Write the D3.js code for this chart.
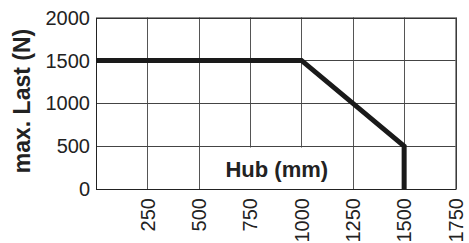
<!DOCTYPE html>
<html>
<head>
<meta charset="utf-8">
<script src="https://cdnjs.cloudflare.com/ajax/libs/d3/7.8.5/d3.min.js"></script>
<style>
  body { margin: 0; background: #fff; }
  text { font-family: "Liberation Sans", Arial, sans-serif; fill: #222; }
</style>
</head>
<body>
<script>
// data
var hub = [0, 1000, 1500, 1500];
var load = [1500, 1500, 500, 0];
var xTicks = [250, 500, 750, 1000, 1250, 1500, 1750];
var yTicks = [0, 500, 1000, 1500, 2000];

var width = 469, height = 243;
var plotLeft = 96, plotRight = 455.5, plotTop = 17.5, plotBottom = 189;

var svg = d3.select("body").append("svg")
    .attr("width", width)
    .attr("height", height);

var x = d3.scaleLinear().domain([0, 1750]).range([plotLeft, plotRight]);
var y = d3.scaleLinear().domain([0, 2000]).range([plotBottom, plotTop]);

// grid lines
svg.append("g").selectAll("line")
    .data(xTicks)
    .enter()
    .append("line")
    .attr("x1", function(d) { return Math.round(x(d)) + 0.5; })
    .attr("x2", function(d) { return Math.round(x(d)) + 0.5; })
    .attr("y1", plotTop)
    .attr("y2", plotBottom)
    .attr("stroke", "#555")
    .attr("stroke-width", 1);

svg.append("g").selectAll("line")
    .data(yTicks)
    .enter()
    .append("line")
    .attr("x1", plotLeft)
    .attr("x2", plotRight)
    .attr("y1", function(d) { return Math.round(y(d)) + 0.5; })
    .attr("y2", function(d) { return Math.round(y(d)) + 0.5; })
    .attr("stroke", "#444")
    .attr("stroke-width", 1);

// frame
svg.append("rect")
    .attr("x", plotLeft + 0.5)
    .attr("y", plotTop + 0.5)
    .attr("width", plotRight - plotLeft)
    .attr("height", plotBottom - plotTop)
    .attr("fill", "none")
    .attr("stroke", "#222")
    .attr("stroke-width", 1);

// white box behind the x-axis title
svg.append("rect")
    .attr("x", Math.round(x(500)) + 1)
    .attr("y", Math.round(y(500)) + 1.5)
    .attr("width", Math.round(x(1250)) - Math.round(x(500)) - 1)
    .attr("height", Math.round(y(0)) - Math.round(y(500)) - 1.5)
    .attr("fill", "#fff");

svg.append("text")
    .attr("x", (x(500) + x(1250)) / 2 + 1)
    .attr("y", 176.5)
    .attr("text-anchor", "middle")
    .style("font-size", "22px")
    .style("font-weight", "bold")
    .text("Hub (mm)");

// load curve
var pts = hub.map(function(d, i) { return [d, load[i]]; });
var line = d3.line()
    .x(function(d) { return x(d[0]); })
    .y(function(d) { return y(d[1]); });

svg.append("path")
    .datum(pts)
    .attr("d", line)
    .attr("fill", "none")
    .attr("stroke", "#1a1a1a")
    .attr("stroke-width", 5)
    .attr("stroke-linejoin", "miter");

// y tick labels
svg.append("g").selectAll("text")
    .data(yTicks)
    .enter()
    .append("text")
    .attr("x", plotLeft - 6)
    .attr("y", function(d) { return y(d); })
    .attr("dy", "0.36em")
    .attr("text-anchor", "end")
    .style("font-size", "20px")
    .text(function(d) { return d; });

// x tick labels, rotated
svg.append("g").selectAll("text")
    .data(xTicks)
    .enter()
    .append("text")
    .attr("transform", function(d) {
        return "translate(" + x(d) + "," + (plotBottom + 9) + ") rotate(-90)";
    })
    .attr("dy", "0.36em")
    .attr("text-anchor", "end")
    .style("font-size", "20px")
    .text(function(d) { return d; });

// y axis title
svg.append("text")
    .attr("transform", "translate(30,101) rotate(-90)")
    .attr("text-anchor", "middle")
    .style("font-size", "23px")
    .style("font-weight", "bold")
    .text("max. Last (N)");
</script>
</body>
</html>
